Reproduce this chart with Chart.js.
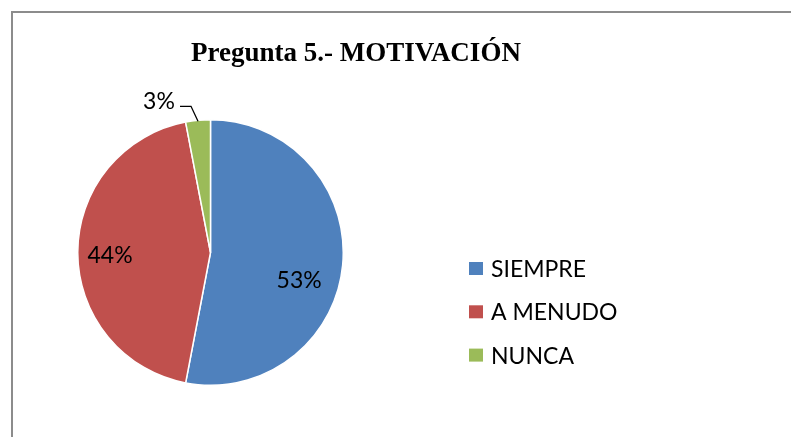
<!DOCTYPE html>
<html lang="es">
<head>
  <meta charset="UTF-8" />
  <title>Pregunta 5.- MOTIVACIÓN</title>
  <script src="https://cdn.jsdelivr.net/npm/chart.js"></script>
  <style>
    body {
      margin: 0;
      background: #fff;
    }
    .wrap {
      position: relative;
      width: 791px;
      height: 437px;
      overflow: hidden;
    }
    .marco {
      position: absolute;
      left: 11px;
      top: 11px;
      width: 800px;
      height: 450px;
      border: 2px solid #8c8c8c;
    }
    canvas {
      position: absolute;
      left: 0;
      top: 0;
    }
  </style>
</head>
<body>
  <div class="wrap">
    <div class="marco"></div>
    <canvas id="grafico" width="791" height="437"></canvas>
  </div>

  <script>
    const titulo = 'Pregunta 5.- MOTIVACIÓN';
    const categorias = ['SIEMPRE', 'A MENUDO', 'NUNCA'];
    const porcentajes = [53, 44, 3];
    const colores = ['#4F81BD', '#C0504D', '#9BBB59'];

    const fuente = '23px Lato';

    // etiquetas de porcentaje, titulo y leyenda dibujados a mano
    const extras = {
      id: 'extras',
      afterDatasetsDraw(chart) {
        const ctx = chart.ctx;
        const arcs = chart.getDatasetMeta(0).data;
        // ajuste de cada etiqueta: giro (grados) y fraccion del radio
        const ajuste = [{ giro: 12, f: 0.70 }, { giro: -2, f: 0.757 }, null];

        ctx.save();
        ctx.fillStyle = '#000';
        ctx.font = fuente;
        ctx.textAlign = 'center';
        ctx.textBaseline = 'middle';

        arcs.forEach((arc, i) => {
          const { x, y, startAngle, endAngle, outerRadius } = arc.getProps(['x', 'y', 'startAngle', 'endAngle', 'outerRadius'], true);
          const medio = (startAngle + endAngle) / 2;
          const texto = porcentajes[i] + '%';
          const a = ajuste[i];
          if (a) {
            const ang = medio + a.giro * Math.PI / 180;
            ctx.fillText(texto, x + Math.cos(ang) * outerRadius * a.f, y + Math.sin(ang) * outerRadius * a.f);
          } else {
            // etiqueta fuera con linea guia
            const px = x + Math.cos(medio) * outerRadius;
            const py = y + Math.sin(medio) * outerRadius;
            ctx.strokeStyle = '#000';
            ctx.lineWidth = 1.3;
            ctx.beginPath();
            ctx.moveTo(px, py + 1);
            ctx.lineTo(px - 7, py - 14);
            ctx.lineTo(px - 18, py - 14);
            ctx.stroke();
            ctx.fillText(texto, px - 39, py - 19);
          }
        });

        // titulo
        ctx.font = 'bold 27px "Liberation Serif"';
        ctx.textBaseline = 'alphabetic';
        ctx.fillText(titulo, 356, 61);

        // leyenda
        ctx.font = fuente;
        ctx.textAlign = 'left';
        ctx.textBaseline = 'middle';
        categorias.forEach((cat, i) => {
          const yy = 268.5 + i * 43.3;
          ctx.fillStyle = colores[i];
          ctx.fillRect(469, yy - 6.5, 14, 13);
          ctx.fillStyle = '#000';
          ctx.fillText(cat, 491, yy + 1);
        });
        ctx.restore();
      }
    };

    new Chart(document.getElementById('grafico'), {
      type: 'pie',
      data: {
        labels: categorias,
        datasets: [{
          data: porcentajes,
          backgroundColor: colores,
          borderColor: '#fff',
          borderWidth: 1.5,
          hoverOffset: 0
        }]
      },
      options: {
        responsive: false,
        animation: false,
        layout: {
          padding: { left: 77, right: 447, top: 119, bottom: 51 }
        },
        plugins: {
          legend: { display: false },
          title: { display: false },
          tooltip: { enabled: false }
        }
      },
      plugins: [extras]
    });
  </script>
</body>
</html>
